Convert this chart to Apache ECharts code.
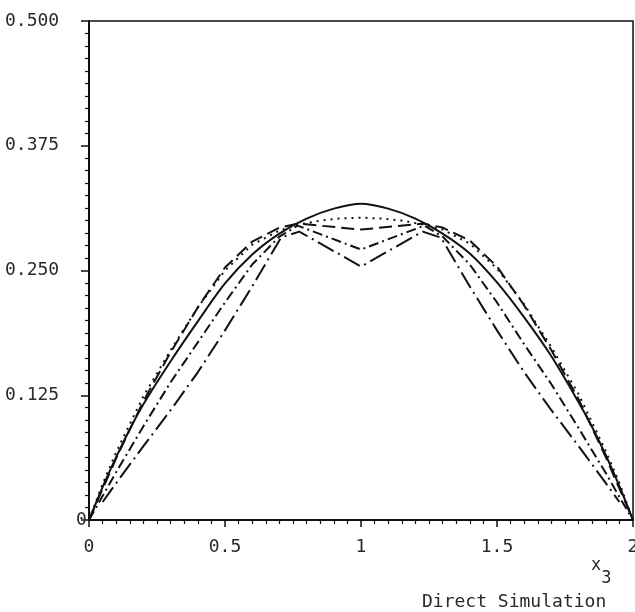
<!DOCTYPE html>
<html>
<head>
<meta charset="utf-8">
<script src="https://cdn.jsdelivr.net/npm/echarts@6/dist/echarts.min.js"></script>
<style>html,body{margin:0;padding:0;background:#fff}#c{width:635px;height:612px}</style>
</head>
<body>
<div id="c"></div>
<script>
// Tick labels
const xTickLabels = ['0', '0.5', '1', '1.5', '2'];
const yTickLabels = ['0', '0.125', '0.250', '0.375', '0.500'];

// Solid curve
const solidX = [0, 0.05, 0.1, 0.15, 0.2, 0.3, 0.4, 0.5, 0.6, 0.7, 0.8, 0.9, 1.0, 1.1, 1.2, 1.3, 1.4, 1.5, 1.6, 1.7, 1.8, 1.85, 1.9, 1.95, 2.0];
const solidY = [0, 0.033, 0.063, 0.091, 0.116, 0.159, 0.199, 0.237, 0.266, 0.287, 0.302, 0.312, 0.317, 0.312, 0.302, 0.287, 0.267, 0.238, 0.203, 0.164, 0.118, 0.093, 0.065, 0.034, 0];

// Dotted curve
const dottedX = [0, 0.05, 0.1, 0.2, 0.3, 0.4, 0.5, 0.6, 0.7, 0.77, 0.85, 0.92, 1.0, 1.08, 1.15, 1.23, 1.3, 1.4, 1.5, 1.6, 1.7, 1.8, 1.9, 1.95, 2.0];
const dottedY = [0, 0.036, 0.068, 0.124, 0.170, 0.213, 0.250, 0.276, 0.290, 0.296, 0.300, 0.302, 0.303, 0.302, 0.300, 0.296, 0.291, 0.277, 0.252, 0.216, 0.173, 0.126, 0.069, 0.037, 0];

// Dashed curve
const dashedX = [0, 0.1, 0.2, 0.3, 0.4, 0.5, 0.6, 0.7, 0.77, 1.0, 1.23, 1.3, 1.4, 1.5, 1.6, 1.7, 1.8, 1.9, 2.0];
const dashedY = [0, 0.062, 0.119, 0.168, 0.213, 0.253, 0.279, 0.293, 0.297, 0.291, 0.297, 0.293, 0.280, 0.254, 0.215, 0.170, 0.121, 0.063, 0];

// Dash-dot curve
const dashDotX = [0, 0.05, 0.1, 0.2, 0.3, 0.4, 0.5, 0.6, 0.7, 0.767, 1.0, 1.233, 1.3, 1.4, 1.5, 1.6, 1.7, 1.8, 1.9, 1.95, 2.0];
const dashDotY = [0, 0.024, 0.048, 0.094, 0.138, 0.178, 0.218, 0.256, 0.284, 0.295, 0.271, 0.295, 0.284, 0.256, 0.218, 0.176, 0.136, 0.092, 0.047, 0.023, 0];

// Long-dash-dot curve
const longDashDotX = [0.05, 0.1, 0.2, 0.3, 0.4, 0.5, 0.6, 0.706, 0.773, 1.0, 1.227, 1.294, 1.4, 1.5, 1.6, 1.7, 1.8, 1.9, 1.95];
const longDashDotY = [0.018, 0.037, 0.074, 0.110, 0.148, 0.190, 0.234, 0.283, 0.289, 0.254, 0.289, 0.283, 0.234, 0.190, 0.148, 0.110, 0.074, 0.037, 0.018];

const zip = (xs, ys) => xs.map((x, i) => [x, ys[i]]);
const FONT = 'DejaVu Sans Mono';
const INK = '#111';
const TXT = '#2a2a2a';

function mkLine(name, xs, ys, type, smooth) {
  return {
    name: name, type: 'line', data: zip(xs, ys), symbol: 'none', showSymbol: false,
    smooth: smooth || false,
    lineStyle: { color: INK, width: 2, type: type },
    emphasis: { disabled: true }
  };
}

const chart = echarts.init(document.getElementById('c'), null, { renderer: 'canvas' });
chart.setOption({
  animation: false,
  backgroundColor: '#fff',
  title: [
    {
      text: '{x|x}{s|3}', left: 586, top: 552,
      textStyle: {
        fontWeight: 'normal',
        rich: {
          x: { fontFamily: FONT, fontSize: 17, fontWeight: 'normal', color: TXT, verticalAlign: 'top', lineHeight: 30 },
          s: { fontFamily: FONT, fontSize: 17, fontWeight: 'normal', color: TXT, padding: [14, 0, 0, 0], lineHeight: 30 }
        }
      }
    },
    {
      text: 'Direct Simulation', left: 417, top: 588,
      textStyle: { fontFamily: FONT, fontSize: 18, fontWeight: 'normal', color: TXT }
    }
  ],
  grid: { left: 89, right: 2, top: 21, bottom: 92, show: true, borderColor: INK, borderWidth: 1.5, outerBoundsMode: 'none', containLabel: false },
  xAxis: {
    type: 'value', min: 0, max: 2, interval: 0.5,
    axisLine: { onZero: false, lineStyle: { color: INK, width: 2 } },
    axisTick: { show: true, length: 7, lineStyle: { color: INK, width: 1.5 } },
    minorTick: { show: true, splitNumber: 10, length: 4, lineStyle: { color: INK, width: 1.2 } },
    splitLine: { show: false },
    axisLabel: {
      fontFamily: FONT, fontSize: 18, color: TXT, margin: 18,
      showMinLabel: true, showMaxLabel: true,
      formatter: (v, i) => xTickLabels[i]
    }
  },
  yAxis: {
    type: 'value', min: 0, max: 0.5, interval: 0.125,
    axisLine: { onZero: false, lineStyle: { color: INK, width: 2 } },
    axisTick: { show: true, length: 8, lineStyle: { color: INK, width: 1.5 } },
    minorTick: { show: true, splitNumber: 10, length: 4, lineStyle: { color: INK, width: 1.2 } },
    splitLine: { show: false },
    axisLabel: {
      fontFamily: FONT, fontSize: 18, color: TXT, margin: 84, align: 'left',
      formatter: (v, i) => (i === 0 ? '{z|' + yTickLabels[i] + '}' : yTickLabels[i]),
      rich: { z: { fontFamily: FONT, fontSize: 18, color: TXT, padding: [0, 0, 0, 71] } }
    }
  },
  series: [
    mkLine('solid', solidX, solidY, 'solid', 0.3),
    mkLine('dotted', dottedX, dottedY, [2, 5]),
    mkLine('dashed', dashedX, dashedY, [13, 6]),
    mkLine('dashdot', dashDotX, dashDotY, [10, 4, 2, 4]),
    mkLine('longdashdot', longDashDotX, longDashDotY, [18, 5, 2, 5])
  ]
});
</script>
</body>
</html>
